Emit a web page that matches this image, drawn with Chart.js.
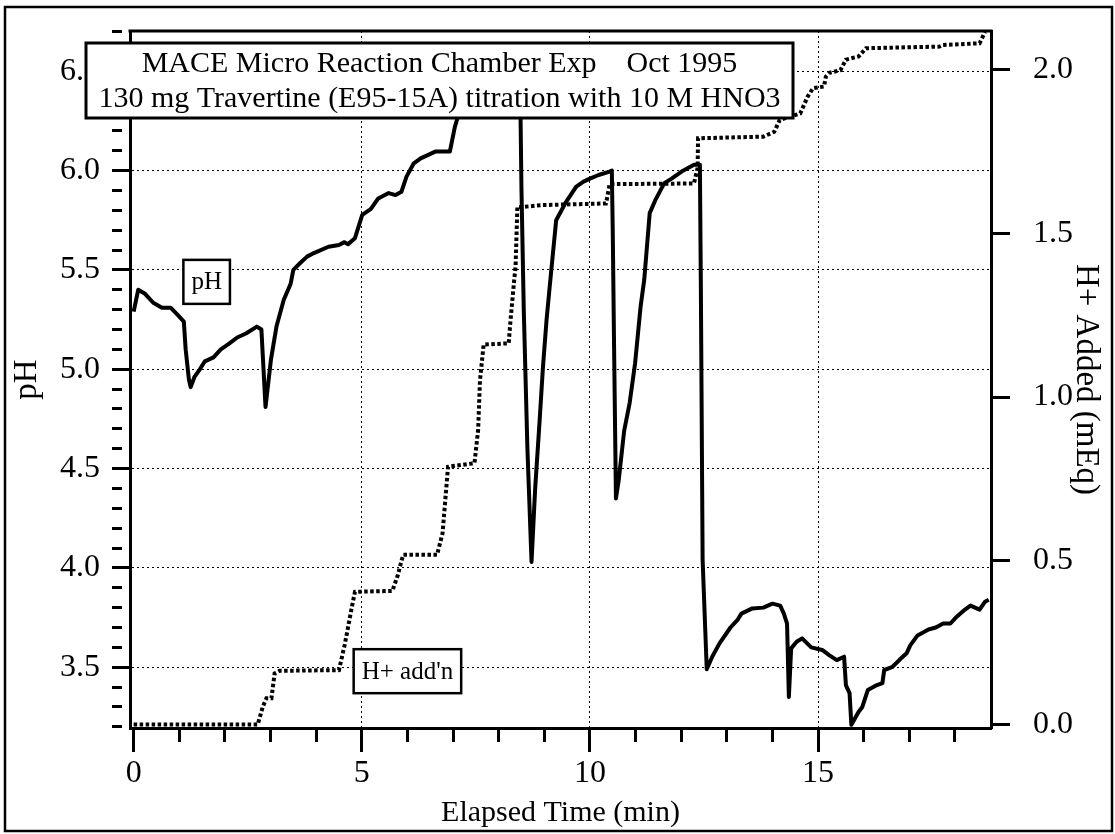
<!DOCTYPE html>
<html><head><meta charset="utf-8">
<script src="https://cdn.jsdelivr.net/npm/chart.js@4/dist/chart.umd.min.js"></script>
<style>html,body{margin:0;padding:0;background:#fff;}#wrap{width:1115px;height:834px;position:relative;}</style>
</head><body><div id="wrap"><canvas id="c" width="1115" height="834"></canvas></div>
<script>
// ---- data ----
const phTime = [0.00,0.10,0.25,0.43,0.62,0.81,0.98,1.10,1.14,1.21,1.25,1.33,1.45,1.56,1.75,1.91,2.10,2.27,2.46,2.70,2.80,2.89,3.01,3.13,3.29,3.44,3.50,3.65,3.80,3.95,4.27,4.50,4.62,4.70,4.85,5.01,5.20,5.36,5.59,5.74,5.87,5.98,6.14,6.29,6.61,6.93,7.04,7.13,7.40,7.80,8.20,8.46,8.50,8.55,8.63,8.72,8.80,8.90,8.97,9.05,9.12,9.26,9.46,9.70,9.86,10.00,10.19,10.43,10.48,10.50,10.53,10.57,10.63,10.75,10.87,10.99,11.11,11.19,11.31,11.43,11.63,11.79,12.04,12.28,12.38,12.41,12.43,12.47,12.56,12.68,12.84,13.08,13.24,13.32,13.56,13.80,14.00,14.17,14.25,14.32,14.36,14.41,14.53,14.65,14.85,15.09,15.25,15.41,15.57,15.61,15.69,15.73,15.89,15.97,16.09,16.29,16.41,16.45,16.62,16.78,16.94,17.02,17.18,17.42,17.58,17.74,17.90,18.02,18.22,18.34,18.54,18.66,18.74];
const phValues = [5.29,5.40,5.38,5.335,5.31,5.31,5.27,5.24,5.10,4.95,4.91,4.96,5.00,5.04,5.06,5.10,5.13,5.16,5.18,5.215,5.20,4.81,5.05,5.215,5.35,5.43,5.50,5.535,5.567,5.585,5.617,5.626,5.64,5.63,5.66,5.777,5.807,5.86,5.887,5.877,5.894,5.97,6.037,6.062,6.096,6.096,6.22,6.29,6.45,6.55,6.60,6.62,5.90,5.30,4.60,4.03,4.40,4.75,5.01,5.25,5.42,5.75,5.836,5.92,5.945,5.96,5.978,5.995,6.00,5.70,5.10,4.35,4.44,4.69,4.83,5.03,5.315,5.45,5.786,5.85,5.937,5.96,6.00,6.03,6.03,6.03,5.45,4.04,3.49,3.553,3.62,3.70,3.74,3.77,3.796,3.80,3.82,3.81,3.77,3.72,3.35,3.595,3.628,3.645,3.60,3.587,3.56,3.536,3.553,3.41,3.37,3.21,3.276,3.30,3.385,3.41,3.42,3.486,3.50,3.536,3.57,3.61,3.66,3.69,3.70,3.72,3.72,3.75,3.79,3.81,3.79,3.83,3.84];
const hTime = [0,2.72,2.83,2.91,3.02,3.09,3.20,4.50,4.62,4.69,4.77,4.85,5.67,5.79,5.87,5.91,6.65,6.77,6.89,7.47,7.55,7.59,7.67,8.22,8.26,8.34,8.37,8.41,8.49,8.96,10.35,10.38,10.43,12.28,12.36,12.37,13.80,14.04,14.16,14.61,14.77,14.89,15.13,15.17,15.25,15.49,15.61,15.89,16.05,17.66,17.74,18.54,18.66];
const hAdded = [0,0,0.054,0.08,0.08,0.156,0.164,0.166,0.24,0.29,0.35,0.405,0.408,0.456,0.50,0.518,0.518,0.584,0.787,0.798,0.90,1.05,1.16,1.164,1.235,1.357,1.398,1.581,1.58,1.586,1.591,1.61,1.65,1.652,1.70,1.79,1.795,1.81,1.846,1.866,1.917,1.943,1.948,1.978,1.99,1.998,2.03,2.04,2.065,2.07,2.075,2.08,2.115];
const xLabelTicks = [0,5,10,15];
const phLabelTicks = [3.5,4.0,4.5,5.0,5.5,6.0,6.5];
const hLabelTicks = [0.0,0.5,1.0,1.5,2.0];
const titleLines = ['MACE Micro Reaction Chamber Exp    Oct 1995','130 mg Travertine (E95-15A) titration with 10 M HNO3'];
const seriesNames = ['pH', "H+ add'n"];
const axisTitles = {x:'Elapsed Time (min)', y:'pH', y2:'H+ Added (mEq)'};

// ---- layout / style ----
const W = 1115, H = 834;
const AREA = {left:130, right:991, top:31, bottom:728};
const SERIF = "'Liberation Serif','Times New Roman',serif";
const labelAnchors = [{name:seriesNames[0], x:1.6, y:5.44}, {name:seriesNames[1], x:6.0, y:3.48}];

const isIn = (v, arr) => arr.some(a => Math.abs(a - v) < 1e-6);
const noPad = (s) => { s.paddingTop = 0; s.paddingBottom = 0; s.paddingLeft = 0; s.paddingRight = 0; };

const decorPlugin = {
  id:'decor',
  afterDraw(chart){
    const {ctx, chartArea:a, scales} = chart;
    ctx.save();
    ctx.strokeStyle = '#000';
    ctx.lineWidth = 3;
    ctx.beginPath(); ctx.moveTo(a.left - 1.5, a.top); ctx.lineTo(a.right + 1.5, a.top); ctx.stroke();
    ctx.lineWidth = 2.5;
    ctx.strokeRect(5, 7, W - 8, H - 10);
    ctx.font = '25px ' + SERIF;
    ctx.textAlign = 'center'; ctx.textBaseline = 'middle';
    labelAnchors.forEach(l => {
      const cx = scales.x.getPixelForValue(l.x), cy = scales.y.getPixelForValue(l.y);
      const w = ctx.measureText(l.name).width + 16, h = 44;
      ctx.fillStyle = '#fff'; ctx.fillRect(cx - w/2, cy - h/2, w, h);
      ctx.lineWidth = 2.5; ctx.strokeRect(cx - w/2, cy - h/2, w, h);
      ctx.fillStyle = '#000'; ctx.fillText(l.name, cx, cy + 1);
    });
    const bx = 86, by = 43, bw = 707, bh = 75;
    ctx.fillStyle = '#fff'; ctx.fillRect(bx, by, bw, bh);
    ctx.lineWidth = 3; ctx.strokeRect(bx, by, bw, bh);
    ctx.fillStyle = '#000'; ctx.font = '30px ' + SERIF;
    ctx.fillText(titleLines[0], bx + bw/2, by + 21);
    ctx.fillText(titleLines[1], bx + bw/2, by + 56);
    ctx.restore();
  }
};

const tickFont = {family: SERIF, size: 32};
const titleFont = {family: SERIF, size: 30};
const sideTitleFont = {family: SERIF, size: 33};

new Chart(document.getElementById('c'), {
  type: 'line',
  data: {
    datasets: [
      {label: seriesNames[1], yAxisID: 'y2', data: hTime.map((t,i)=>({x:t, y:hAdded[i]})),
       borderColor:'#000', borderWidth:4, borderDash:[3.5,2.5], pointRadius:0, tension:0, fill:false},
      {label: seriesNames[0], yAxisID: 'y', data: phTime.map((t,i)=>({x:t, y:phValues[i]})),
       borderColor:'#000', borderWidth:4, pointRadius:0, tension:0, fill:false, borderJoinStyle:'round'}
    ]
  },
  options: {
    responsive:false, animation:false, devicePixelRatio:1,
    layout:{padding:{top:AREA.top, left:0, right:0, bottom:0}},
    plugins:{legend:{display:false}, title:{display:false}, tooltip:{enabled:false}},
    scales: {
      x: {
        type:'linear', position:'bottom', min:-0.08, max:18.79,
        afterFit(s){ s.height = H - AREA.bottom; noPad(s); },
        afterBuildTicks(s){ const t=[]; for(let v=0; v<=18; v++) t.push({value:v}); s.ticks = t; },
        ticks:{autoSkip:false, maxRotation:0, padding:2, color:'#000', font:tickFont,
          callback:(v)=> isIn(v, xLabelTicks) ? String(v) : ''},
        grid:{color:(c)=> (c.tick && isIn(c.tick.value, xLabelTicks) && c.tick.value !== 0) ? '#000' : 'rgba(0,0,0,0)',
          lineWidth:1, tickLength:24, tickWidth:3, tickColor:'#000',
          tickBorderDash:(c)=> (c.tick && isIn(c.tick.value, xLabelTicks)) ? [] : [12,200]},
        border:{display:true, color:'#000', width:3, dash:[2,3]},
        title:{display:true, text:axisTitles.x, color:'#000', font:titleFont, padding:{top:0,bottom:3}}
      },
      y: {
        type:'linear', position:'left', min:3.194, max:6.703,
        afterFit(s){ s.width = AREA.left; noPad(s); },
        afterBuildTicks(s){ const t=[]; for(let v=32; v<=67; v++) t.push({value:v/10}); s.ticks = t; },
        ticks:{autoSkip:false, padding:12, color:'#000', font:tickFont,
          callback:(v)=> isIn(v, phLabelTicks) ? v.toFixed(1) : ''},
        grid:{color:(c)=> (c.tick && isIn(c.tick.value, phLabelTicks)) ? '#000' : 'rgba(0,0,0,0)',
          lineWidth:1, tickLength:18, tickWidth:3, tickColor:'#000',
          tickBorderDash:(c)=> (c.tick && isIn(c.tick.value, phLabelTicks)) ? [] : [10,200]},
        border:{display:true, color:'#000', width:3, dash:[2,3]},
        title:{display:true, text:axisTitles.y, color:'#000', font:sideTitleFont, padding:{top:8,bottom:0}}
      },
      y2: {
        type:'linear', position:'right', min:-0.0107, max:2.1176,
        afterFit(s){ s.width = W - AREA.right; noPad(s); },
        afterBuildTicks(s){ s.ticks = hLabelTicks.map(v=>({value:v})); },
        ticks:{autoSkip:false, padding:23, color:'#000', font:tickFont,
          callback:(v)=> v.toFixed(1)},
        grid:{drawOnChartArea:false, tickLength:19, tickWidth:3, tickColor:'#000'},
        border:{display:true, color:'#000', width:3},
        title:{display:true, text:axisTitles.y2, color:'#000', font:sideTitleFont, padding:{top:10,bottom:0}}
      }
    }
  },
  plugins:[decorPlugin]
});
</script>
</body></html>
